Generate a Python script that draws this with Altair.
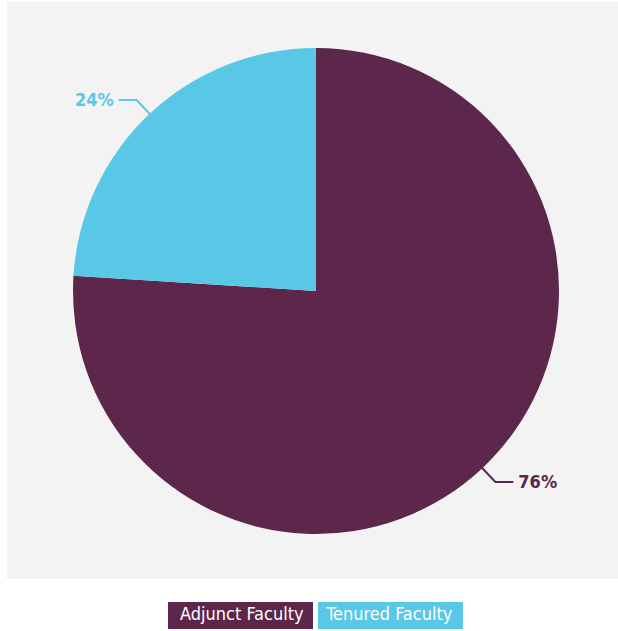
import math
import pandas as pd
import altair as alt

categories = ["Adjunct Faculty", "Tenured Faculty"]
shares = [76, 24]
labels = ["76%", "24%"]
colors = ["#5d264b", "#58c8e6"]

CX, CY, R = 316, 291, 243
FONT = "DejaVu Sans Condensed, sans-serif"

pie_df = pd.DataFrame({"category": categories, "share": shares, "idx": [0, 1]})

# leader lines derived from slice mid-angles
total = sum(shares)
rows, text_rows = [], []
cum = 0
for cat, s, lab in zip(categories, shares, labels):
    mid = (cum + s / 2) / total * 2 * math.pi
    cum += s
    sx, cy_ = math.sin(mid), -math.cos(mid)
    p0 = (CX + (R - 3) * sx, CY + (R - 3) * cy_)
    p1 = (CX + (R + 19) * sx, CY + (R + 19) * cy_)
    d = 1 if sx > 0 else -1
    p2 = (p1[0] + d * 18, p1[1])
    for i, p in enumerate([p0, p1, p2]):
        rows.append({"category": cat, "step": i, "px": p[0], "py": p[1]})
    text_rows.append({"category": cat, "label": lab, "px": p2[0] + d * 5,
                      "py": p2[1] + 1, "side": "right" if d > 0 else "left"})
lines_df = pd.DataFrame(rows)
text_df = pd.DataFrame(text_rows)

color_scale = alt.Scale(domain=categories, range=colors)

background = alt.Chart(pd.DataFrame({"a": [0]})).mark_rect(fill="#f3f3f3").encode(
    x=alt.value(7), x2=alt.value(618), y=alt.value(2), y2=alt.value(579)
)

pie = alt.Chart(pie_df).mark_arc(radius=R).encode(
    theta=alt.Theta("share:Q", stack=True),
    color=alt.Color("category:N", scale=color_scale, legend=None),
    order=alt.Order("idx:Q"),
    x=alt.value(CX),
    y=alt.value(CY),
)

leaders = alt.Chart(lines_df).mark_line(strokeWidth=2).encode(
    x=alt.X("px:Q", scale=None, axis=None),
    y=alt.Y("py:Q", scale=None, axis=None),
    detail="category:N",
    order="step:Q",
    color=alt.Color("category:N", scale=color_scale, legend=None),
)

def label_layer(side, align):
    return alt.Chart(text_df[text_df["side"] == side]).mark_text(
        align=align, baseline="middle", font=FONT, fontSize=18, fontWeight="bold"
    ).encode(
        x=alt.X("px:Q", scale=None, axis=None),
        y=alt.Y("py:Q", scale=None, axis=None),
        text="label:N",
        color=alt.Color("category:N", scale=color_scale, legend=None),
    )

legend_scale = alt.Scale(domain=categories, range=[168, 463],
                         paddingInner=1 / 30, paddingOuter=0)
legend_df = pd.DataFrame({"category": categories})
legend_boxes = alt.Chart(legend_df).mark_bar().encode(
    x=alt.X("category:N", scale=legend_scale, axis=None),
    y=alt.value(602), y2=alt.value(629),
    color=alt.Color("category:N", scale=color_scale, legend=None),
)
legend_text = alt.Chart(legend_df).mark_text(
    color="white", font=FONT, fontSize=18, baseline="middle"
).encode(
    x=alt.X("category:N", scale=legend_scale, axis=None),
    y=alt.value(615),
    text="category:N",
)

chart = alt.layer(
    background, pie, leaders, label_layer("left", "right"), label_layer("right", "left"),
    legend_boxes, legend_text
).resolve_scale(x="independent", y="independent").properties(
    width=618, height=631, autosize=alt.AutoSizeParams(type="none"), padding=0,
    background="white"
).configure_view(stroke=None)

chart.save("out.html", embed_options={"renderer": "svg", "actions": False})
